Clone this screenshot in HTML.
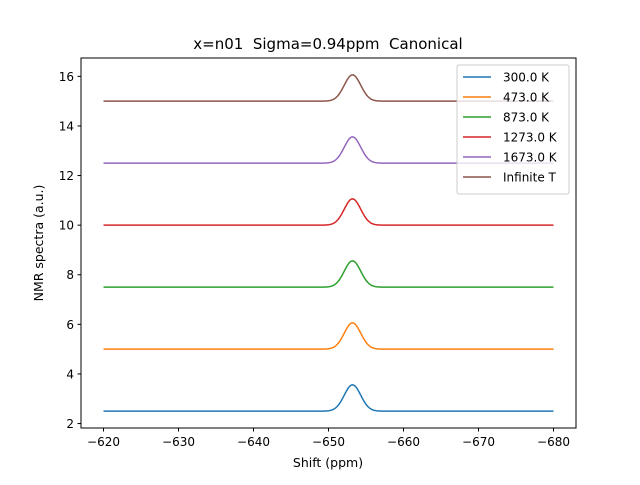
<!DOCTYPE html>
<html><head><meta charset="utf-8"><style>
body{margin:0;background:#fff;}
svg text{font-family:"DejaVu Sans","Liberation Sans",sans-serif;white-space:pre;}
</style></head><body>
<svg id="chart" width="640" height="480" xmlns="http://www.w3.org/2000/svg">
<rect width="640" height="480" fill="#fff"/>
<text x="328" y="49" font-size="15" text-anchor="middle" xml:space="preserve">x=n01  Sigma=0.94ppm  Canonical</text>
<g id="series"></g>
<rect x="81" y="58" width="495" height="370" fill="none" stroke="#000" stroke-width="1"/>
<g id="xticks"></g><g id="yticks"></g>
<text x="328" y="467" font-size="12.5" text-anchor="middle">Shift (ppm)</text>
<text transform="translate(43,243) rotate(-90)" font-size="12.5" text-anchor="middle">NMR spectra (a.u.)</text>
<g id="legend"></g>
</svg>
<script>
const labels=["300.0 K","473.0 K","873.0 K","1273.0 K","1673.0 K","Infinite T"];
const colors=["#1f77b4","#ff7f0e","#2ca02c","#d62728","#9467bd","#8c564b"];
const offsets=[2.5,5,7.5,10,12.5,15];
const peakHeights=[1.06,1.06,1.06,1.06,1.06,1.06];
const peakCenter=-653.2;
const peakWidth=1.1;
const xTicks=[-620,-630,-640,-650,-660,-670,-680];
const yTicks=[2,4,6,8,10,12,14,16];
const xMin=-617,xMax=-683,yMin=1.82,yMax=16.74;
const L=81,R=576,T=58,B=428;
const NS="http://www.w3.org/2000/svg";
const sx=v=>L+(v-xMin)/(xMax-xMin)*(R-L);
const sy=v=>B-(v-yMin)/(yMax-yMin)*(B-T);
function mk(tag,attrs,parent){const e=document.createElementNS(NS,tag);for(const k in attrs)e.setAttribute(k,attrs[k]);parent.appendChild(e);return e;}
const sg=document.getElementById('series');
labels.forEach((lab,i)=>{
  let d="";
  for(let k=0;k<=600;k++){const x=-620-k*0.1;const y=offsets[i]+peakHeights[i]*Math.exp(-0.5*Math.pow((x-peakCenter)/peakWidth,2));d+=(k?"L":"M")+sx(x).toFixed(2)+","+sy(y).toFixed(2);}
  const p=mk('path',{d:d,fill:"none",stroke:colors[i],"stroke-width":1.5},sg);
  
  
});
const xg=document.getElementById('xticks');
xTicks.forEach(v=>{
  const l=mk('line',{x1:sx(v),x2:sx(v),y1:B,y2:B+3.5,stroke:"#000"},xg);
  
  
  const t=mk('text',{x:sx(v),y:B+18,"font-size":12,"text-anchor":"middle"},xg);
  t.textContent="\u2212"+Math.abs(v);
  
  
});
const yg=document.getElementById('yticks');
yTicks.forEach(v=>{
  const l=mk('line',{x1:L-3.5,x2:L,y1:sy(v),y2:sy(v),stroke:"#000"},yg);
  
  
  const t=mk('text',{x:L-7,y:sy(v)+4.5,"font-size":12,"text-anchor":"end"},yg);
  t.textContent=v;
  
  
});
const lg=document.getElementById('legend');
const box=mk('rect',{x:457,y:65,width:112,height:129,rx:2,fill:"#fff","fill-opacity":0.8,stroke:"#ccc"},lg);


labels.forEach((lab,i)=>{
  const y=77+i*20;
  const l=mk('line',{x1:463,x2:491,y1:y,y2:y,stroke:colors[i],"stroke-width":1.5},lg);
  
  
  const t=mk('text',{x:503,y:y+4.5,"font-size":12},lg);
  t.textContent=lab;
  
  
});
</script>
</body></html>
